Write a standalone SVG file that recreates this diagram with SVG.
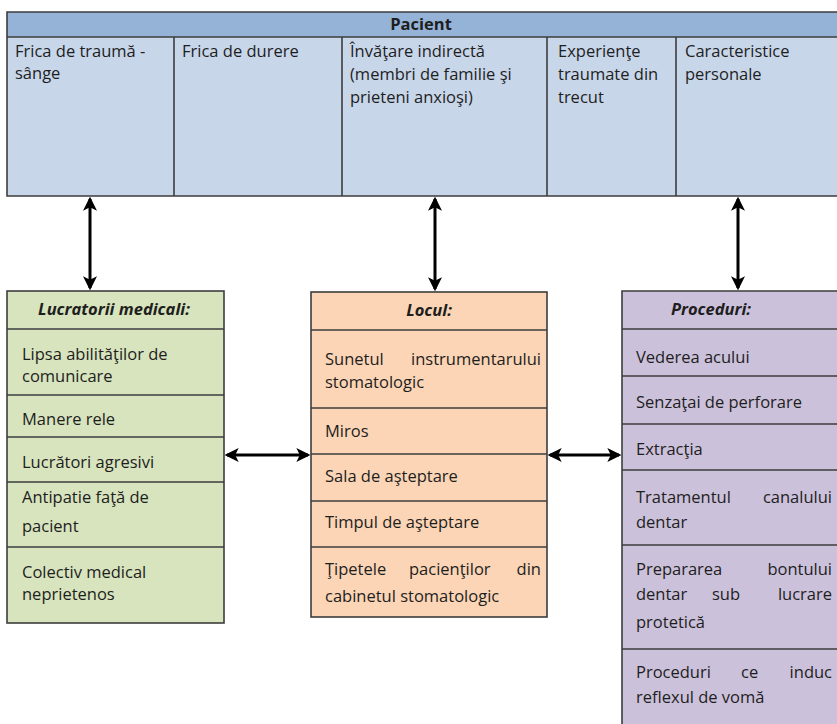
<svg xmlns="http://www.w3.org/2000/svg" width="837" height="724" viewBox="0 0 837 724">
<defs>
<style>
.t{font-family:"Open Sans","Noto Sans","Liberation Sans",sans-serif;font-size:16.5px;fill:#1e1e1e}
.h{font-weight:bold;font-style:italic;text-anchor:middle}
.e{text-anchor:end}
.bd{stroke:#3d3d3d;stroke-width:1.6}
.ln{stroke:#3d3d3d;stroke-width:1.6}
.arr{stroke:#000;stroke-width:3;fill:none;marker-start:url(#ah);marker-end:url(#ah)}
</style>
<marker id="ah" viewBox="0 0 12 12" refX="10" refY="6" markerWidth="14" markerHeight="14" markerUnits="userSpaceOnUse" orient="auto-start-reverse">
<path d="M0,0 L12,6 L0,12 L3,6 z" fill="#000"/>
</marker>
</defs>
<rect width="837" height="724" fill="#fff"/>

<g id="pacient">
<rect x="7" y="12" width="832" height="25" fill="#95b3d7"/>
<rect x="7" y="37" width="832" height="159" fill="#c8d6ea"/>
<path class="bd" fill="none" d="M839,12 H7 V196 H839"/>
<line class="ln" x1="7" y1="37" x2="839" y2="37"/>
<line class="ln" x1="174" y1="37" x2="174" y2="196"/>
<line class="ln" x1="342" y1="37" x2="342" y2="196"/>
<line class="ln" x1="547" y1="37" x2="547" y2="196"/>
<line class="ln" x1="676" y1="37" x2="676" y2="196"/>
<text class="t" x="421" y="30" font-weight="bold" text-anchor="middle">Pacient</text>
<text class="t" x="15" y="57">Frica de traumă -</text>
<text class="t" x="15" y="79">sânge</text>
<text class="t" x="182" y="57">Frica de durere</text>
<text class="t" x="350" y="57">Învăţare indirectă</text>
<text class="t" x="350" y="80">(membri de familie şi</text>
<text class="t" x="350" y="103">prieteni anxioşi)</text>
<text class="t" x="558" y="57">Experienţe</text>
<text class="t" x="558" y="80">traumate din</text>
<text class="t" x="558" y="103">trecut</text>
<text class="t" x="685" y="57">Caracteristice</text>
<text class="t" x="685" y="80">personale</text>
</g>

<g id="lucratori">
<rect class="bd" x="7" y="291" width="217" height="332" fill="#d7e4bd"/>
<line class="ln" x1="7" y1="329" x2="224" y2="329"/>
<line class="ln" x1="7" y1="395" x2="224" y2="395"/>
<line class="ln" x1="7" y1="437" x2="224" y2="437"/>
<line class="ln" x1="7" y1="482" x2="224" y2="482"/>
<line class="ln" x1="7" y1="547" x2="224" y2="547"/>
<text class="t h" x="114" y="315">Lucratorii medicali:</text>
<text class="t" x="22" y="360">Lipsa abilităţilor de</text>
<text class="t" x="22" y="382">comunicare</text>
<text class="t" x="22" y="425">Manere rele</text>
<text class="t" x="22" y="468">Lucrători agresivi</text>
<text class="t" x="22" y="503">Antipatie faţă de</text>
<text class="t" x="22" y="532">pacient</text>
<text class="t" x="22" y="578">Colectiv medical</text>
<text class="t" x="22" y="600">neprietenos</text>
</g>

<g id="locul">
<rect class="bd" x="311" y="292" width="236" height="325" fill="#fbd5b5"/>
<line class="ln" x1="311" y1="330" x2="547" y2="330"/>
<line class="ln" x1="311" y1="408" x2="547" y2="408"/>
<line class="ln" x1="311" y1="454" x2="547" y2="454"/>
<line class="ln" x1="311" y1="501" x2="547" y2="501"/>
<line class="ln" x1="311" y1="547" x2="547" y2="547"/>
<text class="t h" x="429" y="316">Locul:</text>
<text class="t" x="325" y="365">Sunetul</text>
<text class="t e" x="541" y="365">instrumentarului</text>
<text class="t" x="325" y="388">stomatologic</text>
<text class="t" x="325" y="437">Miros</text>
<text class="t" x="325" y="482">Sala de aşteptare</text>
<text class="t" x="325" y="528">Timpul de aşteptare</text>
<text class="t" x="325" y="575">Ţipetele</text>
<text class="t" x="409" y="575">pacienţilor</text>
<text class="t e" x="541" y="575">din</text>
<text class="t" x="325" y="602">cabinetul stomatologic</text>
</g>

<g id="proceduri">
<rect x="622" y="291" width="220" height="440" fill="#ccc1da"/>
<path class="bd" fill="none" d="M840,291 H622 V726"/>
<line class="ln" x1="622" y1="329" x2="840" y2="329"/>
<line class="ln" x1="622" y1="376" x2="840" y2="376"/>
<line class="ln" x1="622" y1="424" x2="840" y2="424"/>
<line class="ln" x1="622" y1="470" x2="840" y2="470"/>
<line class="ln" x1="622" y1="545" x2="840" y2="545"/>
<line class="ln" x1="622" y1="649" x2="840" y2="649"/>
<text class="t h" x="711" y="315">Proceduri:</text>
<text class="t" x="636" y="363">Vederea acului</text>
<text class="t" x="636" y="408">Senzaţai de perforare</text>
<text class="t" x="636" y="455">Extracţia</text>
<text class="t" x="636" y="503">Tratamentul</text>
<text class="t e" x="832" y="503">canalului</text>
<text class="t" x="636" y="528">dentar</text>
<text class="t" x="636" y="575">Prepararea</text>
<text class="t e" x="832" y="575">bontului</text>
<text class="t" x="636" y="600">dentar</text>
<text class="t" x="712" y="600">sub</text>
<text class="t e" x="832" y="600">lucrare</text>
<text class="t" x="636" y="628">protetică</text>
<text class="t" x="636" y="678">Proceduri</text>
<text class="t" x="741" y="678">ce</text>
<text class="t e" x="832" y="678">induc</text>
<text class="t" x="636" y="703">reflexul de vomă</text>
</g>

<g id="connectors">
<line class="arr" x1="90" y1="199" x2="90" y2="288"/>
<line class="arr" x1="435" y1="199" x2="435" y2="289"/>
<line class="arr" x1="738" y1="199" x2="738" y2="288"/>
<line class="arr" x1="227" y1="455" x2="308" y2="455"/>
<line class="arr" x1="550" y1="455" x2="619" y2="455"/>
</g>
</svg>
